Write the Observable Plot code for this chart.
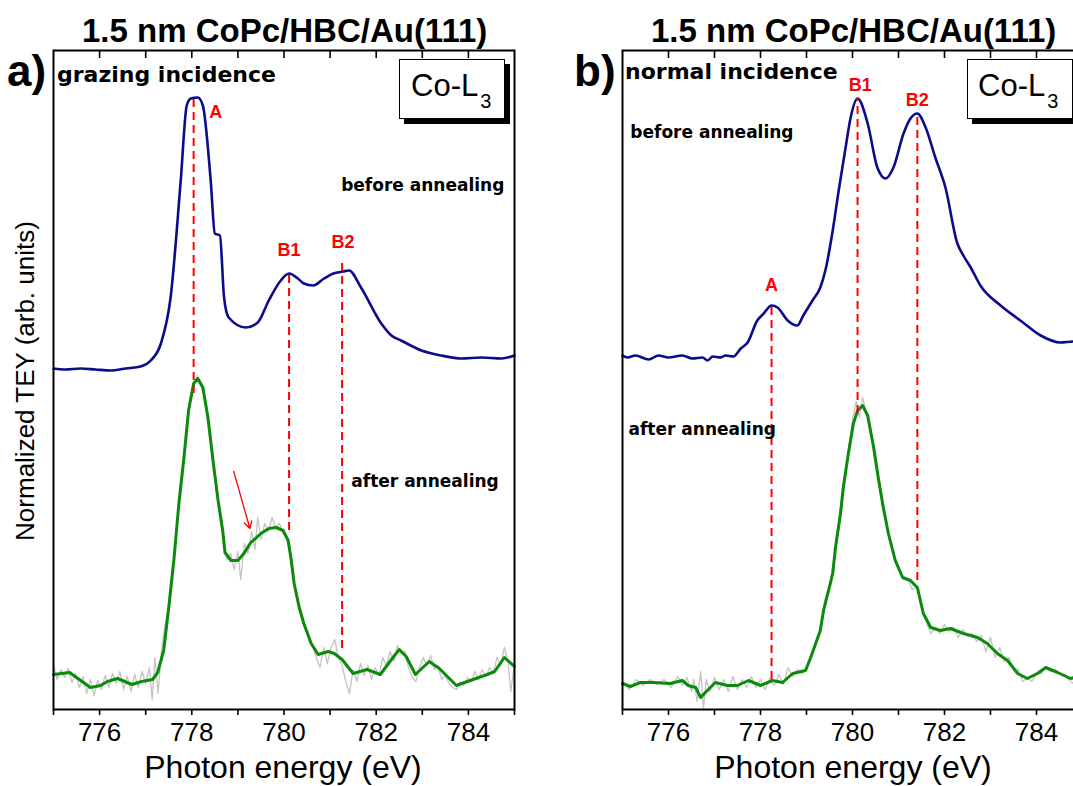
<!DOCTYPE html>
<html><head><meta charset="utf-8">
<script src="https://cdn.jsdelivr.net/npm/d3@7"></script>
<script src="https://cdn.jsdelivr.net/npm/@observablehq/plot@0.6"></script>
<style>
body{margin:0;background:#fff;}
#page{position:relative;width:1073px;height:786px;overflow:hidden;font-family:"Liberation Sans",Arial,sans-serif;color:#000;}
.abs{position:absolute;white-space:nowrap;line-height:1;background:transparent;}
.plot{position:absolute;top:0;z-index:5;}
.box{position:absolute;box-sizing:border-box;border:1px solid #000;background:#fff;box-shadow:5px 5px 0 #000;height:60px;z-index:6;}
</style></head><body><div id="page"></div>
<script>
// ---------- data (photon energy eV, normalized TEY arb. units) ----------
const xDomain = [775, 785];
const yDomain = [0, 6.59];
const xTicks = [775,776,777,778,779,780,781,782,783,784,785];
const topTicks = [776,777,778,779,780,781,782,783,784];
const topTickEnd = 6.51; // inner end of the inward top ticks

// Panel a) grazing incidence
const aBefore = [[775.00,3.41],[775.26,3.40],[775.59,3.41],[775.91,3.40],[776.24,3.39],[776.57,3.41],[776.89,3.43],[777.11,3.49],[777.33,3.66],[777.54,4.12],[777.76,5.29],[777.89,6.04],[777.98,6.11],[778.13,6.12],[778.24,6.04],[778.41,5.29],[778.50,4.76],[778.61,4.74],[778.70,4.12],[778.80,3.92],[779.17,3.82],[779.43,3.87],[779.67,4.09],[779.93,4.29],[780.11,4.36],[780.30,4.31],[780.43,4.26],[780.63,4.24],[780.87,4.31],[781.07,4.36],[781.28,4.38],[781.41,4.39],[781.67,4.22],[782.11,3.86],[782.33,3.74],[782.54,3.69],[782.98,3.59],[783.41,3.54],[783.85,3.51],[784.28,3.52],[784.72,3.51],[785.00,3.54]];
const aAfter = [[775.00,0.35],[775.35,0.37],[775.59,0.29],[775.80,0.22],[776.02,0.24],[776.17,0.28],[776.39,0.31],[776.70,0.25],[776.91,0.28],[777.15,0.30],[777.26,0.37],[777.39,0.59],[777.50,1.02],[777.61,1.49],[777.72,2.06],[777.83,2.52],[777.93,2.99],[778.04,3.26],[778.13,3.31],[778.24,3.22],[778.35,2.92],[778.46,2.49],[778.57,2.09],[778.67,1.79],[778.72,1.57],[778.85,1.49],[779.00,1.49],[779.13,1.56],[779.28,1.67],[779.50,1.76],[779.67,1.81],[779.83,1.82],[779.98,1.79],[780.09,1.69],[780.15,1.52],[780.22,1.26],[780.33,1.02],[780.43,0.86],[780.59,0.66],[780.74,0.55],[780.96,0.58],[781.09,0.56],[781.26,0.50],[781.50,0.36],[781.80,0.40],[782.09,0.35],[782.33,0.50],[782.50,0.60],[782.65,0.53],[782.85,0.35],[783.15,0.48],[783.37,0.41],[783.74,0.24],[784.04,0.29],[784.41,0.35],[784.57,0.38],[784.78,0.52],[785.00,0.43]];
const aRaw = [[775.00,0.44],[775.08,0.30],[775.16,0.40],[775.24,0.32],[775.32,0.41],[775.40,0.27],[775.48,0.36],[775.56,0.22],[775.64,0.33],[775.72,0.16],[775.80,0.30],[775.88,0.14],[775.96,0.29],[776.04,0.20],[776.12,0.34],[776.20,0.22],[776.28,0.36],[776.36,0.26],[776.44,0.38],[776.52,0.20],[776.60,0.33],[776.68,0.18],[776.76,0.35],[776.84,0.22],[776.92,0.38],[777.00,0.26],[777.08,0.42],[777.14,0.10],[777.20,0.52],[777.27,0.16],[777.34,0.58],[777.41,0.82],[777.48,0.98],[777.56,1.30],[777.64,1.62],[777.72,2.08],[777.80,2.40],[777.88,2.80],[777.96,3.12],[778.04,3.24],[778.12,3.34],[778.20,3.25],[778.28,3.10],[778.36,2.88],[778.44,2.55],[778.52,2.25],[778.60,1.98],[778.68,1.70],[778.76,1.50],[778.84,1.56],[778.92,1.40],[779.00,1.58],[779.06,1.30],[779.14,1.66],[779.22,1.56],[779.30,1.78],[779.37,1.60],[779.43,1.92],[779.50,1.70],[779.58,1.86],[779.66,1.78],[779.74,1.92],[779.82,1.82],[779.90,1.86],[779.98,1.76],[780.06,1.72],[780.14,1.50],[780.22,1.28],[780.30,1.06],[780.38,0.92],[780.46,0.82],[780.54,0.70],[780.62,0.64],[780.70,0.52],[780.78,0.42],[780.86,0.62],[780.94,0.46],[781.02,0.62],[781.10,0.70],[781.18,0.52],[781.26,0.44],[781.34,0.28],[781.42,0.16],[781.50,0.40],[781.58,0.28],[781.66,0.46],[781.74,0.34],[781.82,0.44],[781.90,0.30],[781.98,0.42],[782.06,0.34],[782.14,0.52],[782.22,0.44],[782.30,0.58],[782.38,0.48],[782.46,0.64],[782.54,0.56],[782.62,0.58],[782.70,0.42],[782.78,0.32],[782.86,0.28],[782.94,0.42],[783.02,0.52],[783.10,0.44],[783.18,0.54],[783.26,0.40],[783.34,0.44],[783.42,0.30],[783.50,0.34],[783.58,0.26],[783.66,0.22],[783.74,0.20],[783.82,0.28],[783.90,0.24],[783.98,0.32],[784.06,0.28],[784.14,0.38],[784.22,0.30],[784.30,0.40],[784.38,0.33],[784.46,0.42],[784.54,0.36],[784.62,0.52],[784.70,0.44],[784.78,0.62],[784.86,0.48],[784.92,0.18],[785.00,0.46]];
const aPeakNames = ["A","B1","B2"];
const aPeakE = [778.04, 780.11, 781.26];
const aPeakTop = [6.12, 4.36, 4.51];
const aPeakBottom = [3.16, 1.79, 0.61];
const aNameE = [778.52, 780.11, 781.28];
const aNameI = [5.97, 4.59, 4.67];
const aArrow = [[778.91, 2.38], [779.26, 1.81]];
const aNotes = ["before annealing", "after annealing"];
const aNoteE = [781.24, 781.46];
const aNoteI = [5.24, 2.28];

// Panel b) normal incidence
const bBefore = [[775.00,3.54],[775.11,3.52],[775.28,3.54],[775.57,3.50],[775.78,3.54],[776.00,3.52],[776.30,3.54],[776.52,3.51],[776.74,3.52],[776.85,3.49],[776.96,3.53],[777.13,3.52],[777.24,3.54],[777.41,3.53],[777.57,3.61],[777.72,3.67],[777.93,3.89],[778.07,3.96],[778.24,4.04],[778.37,4.02],[778.59,3.89],[778.80,3.84],[778.93,3.94],[779.13,4.09],[779.30,4.22],[779.41,4.39],[779.57,4.79],[779.70,5.19],[779.85,5.62],[779.96,5.92],[780.11,6.11],[780.33,5.86],[780.54,5.42],[780.72,5.31],[780.89,5.42],[781.11,5.76],[781.26,5.91],[781.41,5.96],[781.59,5.82],[781.80,5.52],[782.02,5.22],[782.28,4.66],[782.41,4.54],[782.57,4.42],[782.78,4.24],[783.22,4.04],[783.65,3.89],[784.09,3.74],[784.52,3.67],[784.80,3.68],[785.00,3.68]];
const bAfter = [[775.00,0.26],[775.17,0.23],[775.39,0.27],[775.67,0.27],[776.04,0.26],[776.30,0.29],[776.43,0.24],[776.59,0.22],[776.70,0.12],[776.80,0.17],[777.02,0.27],[777.28,0.24],[777.50,0.24],[777.74,0.29],[778.00,0.24],[778.26,0.29],[778.48,0.27],[778.70,0.36],[778.98,0.39],[779.09,0.52],[779.20,0.66],[779.30,0.79],[779.37,0.99],[779.48,1.19],[779.57,1.36],[779.63,1.62],[779.74,1.96],[779.80,2.22],[779.91,2.56],[780.02,2.86],[780.11,2.99],[780.22,3.04],[780.33,2.94],[780.46,2.62],[780.57,2.29],[780.67,2.02],[780.78,1.76],[780.93,1.49],[781.09,1.32],[781.26,1.29],[781.41,1.22],[781.54,0.96],[781.70,0.82],[781.91,0.79],[782.13,0.81],[782.41,0.76],[782.72,0.72],[782.93,0.66],[783.15,0.56],[783.37,0.49],[783.59,0.36],[783.80,0.31],[784.02,0.36],[784.20,0.42],[784.46,0.37],[784.74,0.31],[785.00,0.34]];
const bRaw = [[775.00,0.28],[775.15,0.20],[775.30,0.30],[775.45,0.24],[775.60,0.30],[775.75,0.25],[775.90,0.30],[776.05,0.22],[776.20,0.33],[776.30,0.24],[776.40,0.32],[776.50,0.18],[776.55,0.30],[776.62,0.08],[776.70,0.38],[776.76,0.01],[776.82,0.30],[776.90,0.18],[777.00,0.32],[777.10,0.20],[777.20,0.30],[777.30,0.18],[777.40,0.33],[777.50,0.20],[777.60,0.30],[777.70,0.22],[777.80,0.33],[777.90,0.22],[778.00,0.30],[778.10,0.20],[778.20,0.31],[778.30,0.24],[778.40,0.35],[778.50,0.25],[778.60,0.42],[778.70,0.33],[778.80,0.40],[778.90,0.36],[779.00,0.42],[779.10,0.50],[779.20,0.68],[779.30,0.80],[779.40,1.10],[779.50,1.25],[779.60,1.50],[779.70,1.90],[779.80,2.25],[779.90,2.55],[780.00,2.90],[780.08,3.08],[780.15,2.92],[780.22,3.12],[780.30,2.96],[780.40,2.75],[780.50,2.45],[780.60,2.20],[780.70,1.92],[780.80,1.72],[780.90,1.52],[781.00,1.40],[781.10,1.30],[781.20,1.30],[781.30,1.20],[781.40,1.22],[781.50,1.02],[781.60,0.88],[781.70,0.76],[781.80,0.82],[781.90,0.76],[782.00,0.85],[782.10,0.78],[782.20,0.82],[782.30,0.72],[782.40,0.80],[782.50,0.74],[782.60,0.76],[782.70,0.68],[782.80,0.74],[782.90,0.58],[783.00,0.72],[783.10,0.52],[783.20,0.62],[783.30,0.48],[783.40,0.52],[783.50,0.40],[783.60,0.40],[783.70,0.28],[783.80,0.32],[783.90,0.28],[784.00,0.36],[784.10,0.36],[784.20,0.42],[784.30,0.38],[784.40,0.40],[784.50,0.36],[784.60,0.34],[784.70,0.30],[784.80,0.26],[785.00,0.30]];
const bPeakNames = ["A","B1","B2"];
const bPeakE = [778.24, 780.11, 781.41];
const bPeakTop = [4.04, 6.11, 5.96];
const bPeakBottom = [0.30, 2.96, 1.29];
const bNameE = [778.24, 780.17, 781.41];
const bNameI = [4.24, 6.24, 6.09];
const bNotes = ["before annealing", "after annealing"];
const bNoteE = [775.17, 775.13];
const bNoteI = [5.77, 2.80];

// ---------- drawing ----------
const page = document.getElementById("page");
const toRows = arr => arr.map(([e, v]) => ({e, v}));

function addText(html, style) {
  const d = document.createElement("div");
  d.className = "abs";
  d.innerHTML = html;
  Object.assign(d.style, style);
  page.appendChild(d);
  return d;
}
const title = "1.5 nm CoPc/HBC/Au(111)";
addText(title, {left: "82px", width: "400px", textAlign: "center", top: "14px", height: "33px", fontSize: "33px", fontWeight: "bold"});
addText(title, {left: "651px", width: "400px", textAlign: "center", top: "14px", height: "33px", fontSize: "33px", fontWeight: "bold"});
addText("a)", {left: "7px", top: "49px", fontSize: "44px", fontWeight: "bold"});
addText("b)", {left: "574px", top: "49px", fontSize: "44px", fontWeight: "bold"});
addText("grazing incidence", {left: "57px", top: "64px", fontSize: "22px", fontWeight: "bold", fontFamily: "DejaVu Sans, sans-serif"});
addText("normal incidence", {left: "625px", top: "61px", fontSize: "22px", fontWeight: "bold", fontFamily: "DejaVu Sans, sans-serif"});
addText("Photon energy (eV)", {left: "83px", width: "400px", textAlign: "center", top: "751px", fontSize: "32px"});
addText("Photon energy (eV)", {left: "653px", width: "400px", textAlign: "center", top: "751px", fontSize: "32px"});
addText("Normalized TEY (arb. units)", {left: "-175px", width: "400px", textAlign: "center", top: "368px", height: "26px", lineHeight: "26px", fontSize: "26px", transform: "rotate(-90deg)", transformOrigin: "50% 50%"});

function panel({before, after, raw, peakNames, peakE, peakTop, peakBottom, nameE, nameI, notes, noteE, noteI, arrow, width, marginLeft, marginRight}) {
  const peaks = peakNames.map((n, i) => ({n, e: peakE[i], hi: peakTop[i], lo: peakBottom[i], le: nameE[i], li: nameI[i]}));
  const noteRows = notes.map((t, i) => ({t, e: noteE[i], v: noteI[i]}));
  const marks = [
    Plot.line(toRows(raw), {x: "e", y: "v", stroke: "#c4c4c4", strokeWidth: 1.3}),
    Plot.line(toRows(after), {x: "e", y: "v", stroke: "#0b8a0b", strokeWidth: 3}),
    Plot.line(toRows(before), {x: "e", y: "v", stroke: "#0c0c8a", strokeWidth: 2.6, curve: "monotone-x"}),
    Plot.ruleX(peaks, {x: "e", y1: "lo", y2: "hi", stroke: "#ff0000", strokeWidth: 2, strokeDasharray: "8,5"}),
    Plot.text(peaks, {x: "le", y: "li", text: "n", fill: "#ff0000", fontSize: 18, fontWeight: "bold", fontFamily: "Liberation Sans, Arial, sans-serif"}),
    Plot.text(noteRows, {x: "e", y: "v", text: "t", textAnchor: "start", fill: "#000", fontSize: 17, fontWeight: "bold", fontFamily: "DejaVu Sans, sans-serif"}),
    Plot.frame({stroke: "#000", strokeWidth: 2}),
    Plot.ruleX(topTicks, {x: d => d, y1: yDomain[1], y2: topTickEnd, stroke: "#000", strokeWidth: 1.6}),
    Plot.axisX({anchor: "bottom", ticks: xTicks, tickSize: 6, tickPadding: 7, tickFormat: d => (d % 2 === 0 ? String(d) : ""), label: null, fontSize: 26, strokeWidth: 1.6})
  ];
  if (arrow) {
    marks.push(Plot.arrow([{x1: arrow[0][0], y1: arrow[0][1], x2: arrow[1][0], y2: arrow[1][1]}], {x1: "x1", y1: "y1", x2: "x2", y2: "y2", stroke: "#ff0000", strokeWidth: 1.3, headLength: 9}));
  }
  return Plot.plot({
    width, height: 786, marginTop: 50, marginBottom: 77, marginLeft, marginRight,
    x: {domain: xDomain},
    y: {domain: yDomain, axis: null},
    style: {fontFamily: "Liberation Sans, Arial, sans-serif", fontSize: "26px", color: "#000", background: "transparent", overflow: "visible"},
    marks
  });
}

const svgA = panel({before: aBefore, after: aAfter, raw: aRaw, peakNames: aPeakNames, peakE: aPeakE, peakTop: aPeakTop, peakBottom: aPeakBottom, nameE: aNameE, nameI: aNameI, notes: aNotes, noteE: aNoteE, noteI: aNoteI, arrow: aArrow, width: 540, marginLeft: 53, marginRight: 26});
svgA.classList.add("plot"); svgA.style.left = "0px"; svgA.style.top = "0px"; svgA.style.position = "absolute";
page.appendChild(svgA);

const svgB = panel({before: bBefore, after: bAfter, raw: bRaw, peakNames: bPeakNames, peakE: bPeakE, peakTop: bPeakTop, peakBottom: bPeakBottom, nameE: bNameE, nameI: bNameI, notes: bNotes, noteE: bNoteE, noteI: bNoteI, arrow: null, width: 560, marginLeft: 82, marginRight: 18});
svgB.classList.add("plot"); svgB.style.left = "540px"; svgB.style.top = "0px"; svgB.style.position = "absolute";
page.appendChild(svgB);

function coBox(left, width, pad) {
  const b = document.createElement("div");
  b.className = "box";
  Object.assign(b.style, {left: left + "px", top: "59px", width: width + "px"});
  const t = document.createElement("div");
  t.className = "abs";
  Object.assign(t.style, {left: pad + "px", top: "10px", fontSize: "31px"});
  t.innerHTML = 'Co-L<span style="font-size:20px;position:relative;top:12px;margin-left:2px">3</span>';
  b.appendChild(t);
  page.appendChild(b);
}
coBox(399, 106, 11);
coBox(967, 106, 10);
</script>
</body></html>
